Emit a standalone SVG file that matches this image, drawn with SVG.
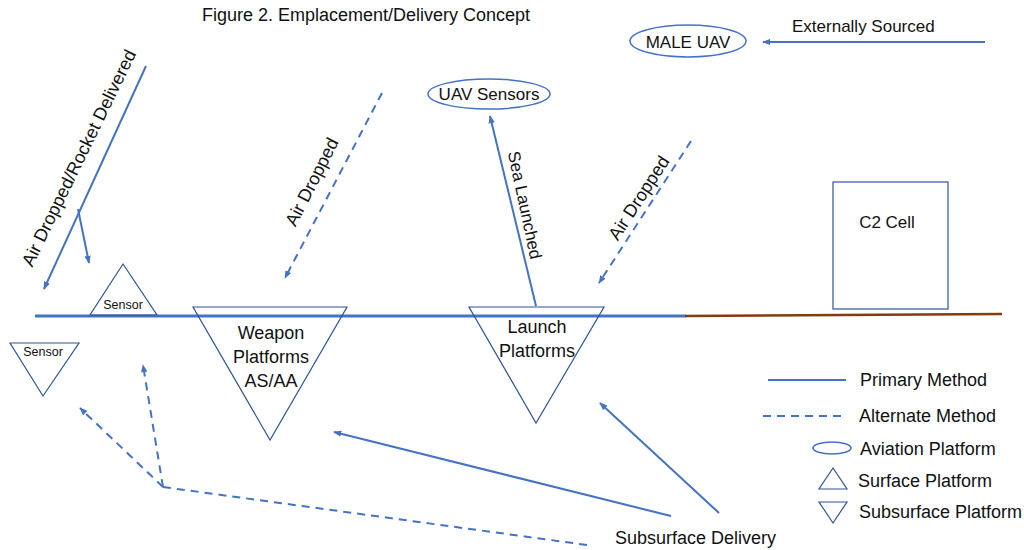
<svg xmlns="http://www.w3.org/2000/svg" width="1024" height="550" viewBox="0 0 1024 550">
<style>
text{font-family:"Liberation Sans",Arial,sans-serif;fill:#111;}
.t18{font-size:18px;}
.t17{font-size:17px;}
.sm{font-size:12.5px;}
.mid{text-anchor:middle;}
.tri{fill:none;stroke:#2F5597;stroke-width:1.2;}
.ell{fill:none;stroke:#4472C4;stroke-width:1.5;}
.box{fill:none;stroke:#2F5597;stroke-width:1.2;}
.sol{fill:none;stroke:#4472C4;stroke-width:2;}
.dsh{fill:none;stroke:#4472C4;stroke-width:2;stroke-dasharray:8,6;}
.arr{marker-end:url(#ah);}
</style>
<defs>
<marker id="ah" viewBox="0 0 10 10" refX="9" refY="5" markerWidth="8" markerHeight="8" orient="auto" markerUnits="userSpaceOnUse">
<path d="M0,1 L10,5 L0,9 z" fill="#4472C4"/>
</marker>
</defs>
<rect width="1024" height="550" fill="#fff"/>
<text class="t18 mid" x="366" y="21">Figure 2. Emplacement/Delivery Concept</text>

<g id="surface-line">
<line x1="35" y1="316" x2="686" y2="316" stroke="#4472C4" stroke-width="3"/>
<line x1="685" y1="316" x2="1002" y2="314" stroke="#843C0C" stroke-width="2.5"/>
</g>

<g id="connectors">
<line class="sol arr" x1="146" y1="66" x2="44" y2="289"/>
<line class="sol arr" x1="78" y1="209" x2="89" y2="263"/>
<line class="dsh arr" x1="382" y1="93" x2="285" y2="278"/>
<line class="sol arr" x1="536" y1="306" x2="490" y2="116"/>
<line class="dsh arr" x1="691" y1="141" x2="599" y2="283"/>
<line class="sol arr" x1="985" y1="42" x2="763" y2="42"/>
<line class="dsh" x1="587" y1="545" x2="163" y2="487"/>
<line class="dsh arr" x1="163" y1="487" x2="143" y2="365"/>
<line class="dsh arr" x1="163" y1="487" x2="80" y2="408"/>
<line class="sol arr" x1="671" y1="516" x2="334" y2="432"/>
<line class="sol arr" x1="719" y1="513" x2="600" y2="403"/>
<text class="t18 mid" x="79" y="164" transform="rotate(-64 79 158)">Air Dropped/Rocket Delivered</text>
<text class="t18 mid" x="312" y="188" transform="rotate(-63 312 182)">Air Dropped</text>
<text class="t18 mid" x="639" y="204" transform="rotate(-57 639 198)">Air Dropped</text>
<text class="t17 mid" x="525" y="211" transform="rotate(78 525 205)">Sea Launched</text>
<text class="t17" x="792" y="32">Externally Sourced</text>
<text class="t18" x="615" y="544">Subsurface Delivery</text>
</g>

<g id="male-uav">
<ellipse class="ell" cx="688" cy="41" rx="58" ry="16"/>
<text class="t17 mid" x="688" y="48">MALE UAV</text>
</g>

<g id="uav-sensors">
<ellipse class="ell" cx="489" cy="94" rx="61" ry="15"/>
<text class="t17 mid" x="489" y="100">UAV Sensors</text>
</g>

<g id="c2-cell">
<rect class="box" x="833" y="182" width="115" height="127"/>
<text class="t17 mid" x="887" y="228">C2 Cell</text>
</g>

<g id="sensor-surface">
<polygon class="tri" points="123,264 90,315 157,315"/>
<text class="sm mid" x="123" y="309">Sensor</text>
</g>

<g id="sensor-subsurface">
<polygon class="tri" points="10,343 79,343 43,396"/>
<text class="sm mid" x="43" y="356">Sensor</text>
</g>

<g id="weapon-platforms">
<polygon class="tri" points="193,307 347,307 270,440"/>
<text class="t18 mid" x="271" y="339">Weapon</text>
<text class="t18 mid" x="271" y="363">Platforms</text>
<text class="t18 mid" x="271" y="387">AS/AA</text>
</g>

<g id="launch-platforms">
<polygon class="tri" points="469,307 604,307 536,423"/>
<text class="t18 mid" x="537" y="333">Launch</text>
<text class="t18 mid" x="537" y="357">Platforms</text>
</g>

<g id="legend">
<line class="sol" x1="768" y1="380" x2="846" y2="380"/>
<text class="t18" x="860" y="386">Primary Method</text>
<line class="dsh" x1="763" y1="416" x2="846" y2="416" stroke-dasharray="10,7"/>
<text class="t18" x="859" y="422">Alternate Method</text>
<ellipse class="ell" cx="832" cy="448" rx="19" ry="6" stroke-width="1.2"/>
<text class="t18" x="860" y="455">Aviation Platform</text>
<polygon class="tri" points="833,468 819,489 847,489"/>
<text class="t18" x="858" y="487">Surface Platform</text>
<polygon class="tri" points="819,502 847,502 833,523"/>
<text class="t18" x="859" y="518">Subsurface Platform</text>
</g>
</svg>
